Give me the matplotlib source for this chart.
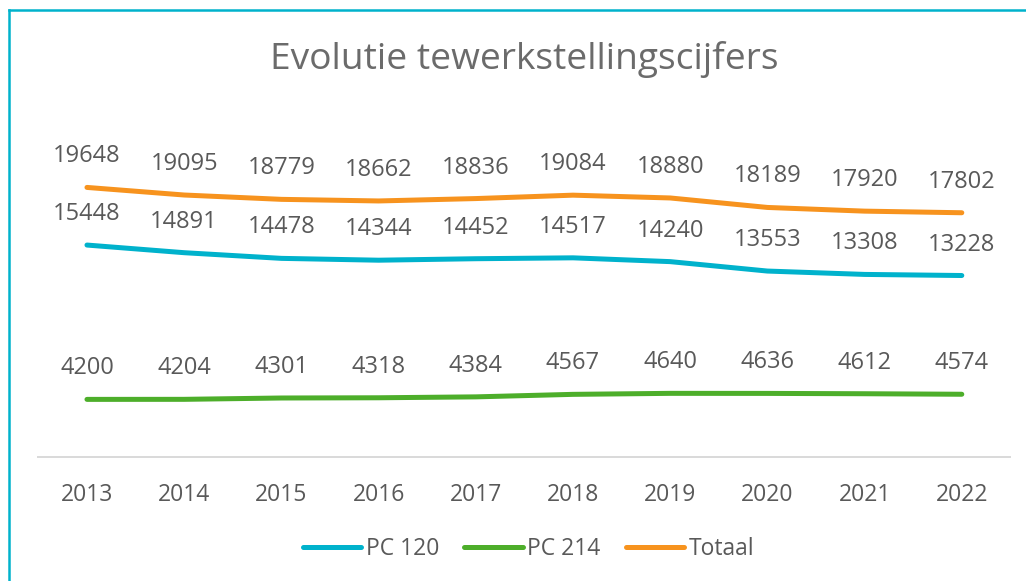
import matplotlib
matplotlib.use("Agg")
import matplotlib.pyplot as plt
from matplotlib.lines import Line2D

plt.rcParams['font.family'] = ['Open Sans', 'DejaVu Sans']

years = ["2013", "2014", "2015", "2016", "2017", "2018", "2019", "2020", "2021", "2022"]
pc120 = [15448, 14891, 14478, 14344, 14452, 14517, 14240, 13553, 13308, 13228]
pc214 = [4200, 4204, 4301, 4318, 4384, 4567, 4640, 4636, 4612, 4574]
totaal = [19648, 19095, 18779, 18662, 18836, 19084, 18880, 18189, 17920, 17802]

series = [("PC 120", pc120, "#00B2CC"),
          ("PC 214", pc214, "#4DAE2A"),
          ("Totaal", totaal, "#F7931E")]

text_col = "#595959"

fig = plt.figure(figsize=(10.26, 5.81), dpi=100)
ax = fig.add_axes([0.0374, 0.2134, 0.9474, 0.5904])

x = list(range(len(years)))
for name, vals, col in series:
    ax.plot(x, vals, color=col, lw=3.6, solid_capstyle="round", label=name)
    for xi, v in zip(x, vals):
        ax.annotate(str(v), (xi, v), xytext=(0, 18), textcoords="offset points",
                    ha="center", va="baseline", fontsize=17, color=text_col)

ax.set_xlim(-0.5, len(years) - 0.5)
ax.set_ylim(0, 25000)
ax.set_xticks(x)
ax.set_xticklabels(years)
ax.set_yticks([])
ax.tick_params(axis="x", length=0, pad=19, labelsize=16.5, labelcolor=text_col)
for s in ["top", "right", "left"]:
    ax.spines[s].set_visible(False)
ax.spines["bottom"].set_color("#D9D9D9")
ax.spines["bottom"].set_linewidth(1.4)

fig.text(0.511, 1 - 60 / 581, "Evolutie tewerkstellingscijfers", ha="center",
         va="center", fontsize=26.7, color="#6B6B6B")

leg = ax.legend(loc="center", bbox_to_anchor=(0.515, 1 - 549 / 581),
                bbox_transform=fig.transFigure, ncols=3, frameon=False,
                fontsize=16.5, handlelength=2.55, handletextpad=0.2,
                columnspacing=1.1)
for t in leg.get_texts():
    t.set_color(text_col)
for h in leg.legend_handles:
    h.set_solid_capstyle("round")

# frame border (left and top)
bc = "#00B2CC"
fig.add_artist(Line2D([9 / 1026, 9 / 1026], [0, 1 - 10 / 581], color=bc, lw=1.8,
                      transform=fig.transFigure))
fig.add_artist(Line2D([9 / 1026, 1], [1 - 10 / 581, 1 - 10 / 581], color=bc, lw=1.8,
                      transform=fig.transFigure))

fig.savefig("out.png", dpi=100, facecolor="white")
plt.close(fig)
